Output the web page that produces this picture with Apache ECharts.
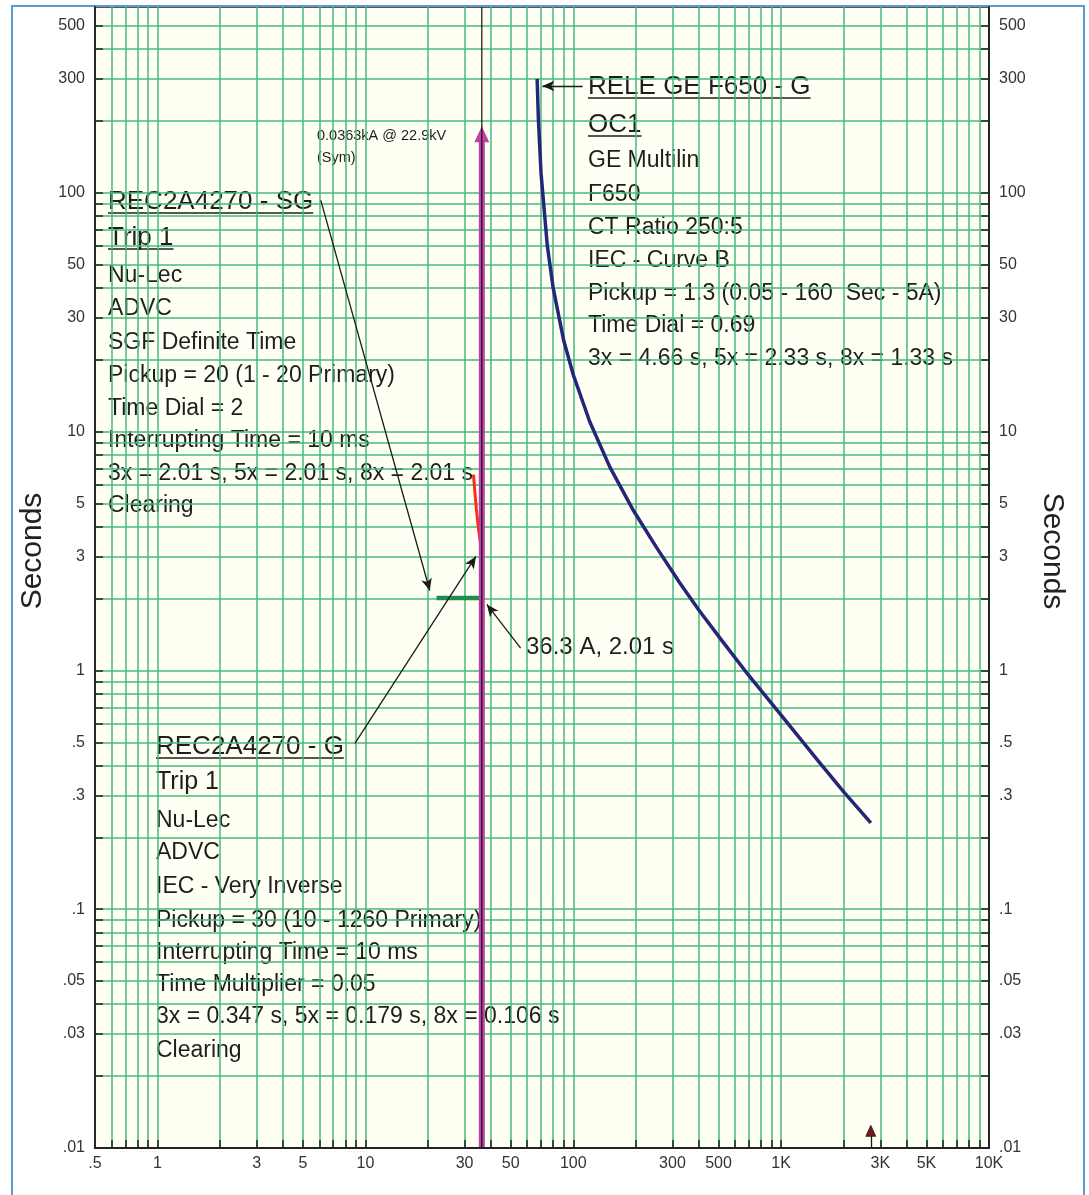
<!DOCTYPE html>
<html><head><meta charset="utf-8">
<script src="https://cdn.jsdelivr.net/npm/echarts@6/dist/echarts.min.js"></script>
<style>html,body{margin:0;padding:0;background:#fff}#c{width:1089px;height:1195px}</style>
</head><body><div id="c"></div>
<script>
// ---------------- data ----------------
const xTickValues = [0.5,1,3,5,10,30,50,100,300,500,1000,3000,5000,10000];
const xTickLabels = ['.5','1','3','5','10','30','50','100','300','500','1K','3K','5K','10K'];
const yTickValues = [0.01,0.03,0.05,0.1,0.3,0.5,1,3,5,10,30,50,100,300,500];
const yTickLabels = ['.01','.03','.05','.1','.3','.5','1','3','5','10','30','50','100','300','500'];
const xGridValues = [0.6,0.7,0.8,0.9,1,2,3,4,5,6,7,8,9,10,20,30,40,50,60,70,80,90,100,200,300,400,500,600,700,800,900,1000,2000,3000,4000,5000,6000,7000,8000,9000];
const yGridValues = [0.02,0.03,0.04,0.05,0.06,0.07,0.08,0.09,0.1,0.2,0.3,0.4,0.5,0.6,0.7,0.8,0.9,1,2,3,4,5,6,7,8,9,10,20,30,40,50,60,70,80,90,100,200,300,400,500];

// GE F650 relay curve (A, s)
const releF650 = [[67,300],[68,200],[70,120],[75,60],[80,40],[90,24],[100,17.3],[120,11],[150,7.1],[195,4.66],[250,3.3],[325,2.33],[400,1.8],[520,1.33],[700,0.95],[1000,0.65],[1500,0.42],[2000,0.31],[2700,0.23]];
// REC2A4270 - G (IEC very inverse), visible portion
const recG = [[33.1,6.6],[33.6,5.6],[34.2,4.7],[35.0,3.9],[35.6,3.5],[36.3,3.2]];
// REC2A4270 - SG definite time
const recSG = [[22,2.01],[36.3,2.01]];
// fault current line 0.0363 kA
const faultLine = [[36.3,0.01],[36.3,600]];
const faultArrow = [[36.3,0.01],[36.3,176]];
// annotation arrows [from, to]
const sgArrow = [[6.1,93],[20.4,2.16]];
const gArrow = [[8.9,0.495],[34,3.0]];
const ptArrow = [[55.8,1.24],[38.4,1.89]];
const releArrow = [[111,280],[71,280]];
const bottomMarker = [[2700,0.01],[2700,0.0118]];

const sgLines = ['REC2A4270 - SG','Trip 1','Nu-Lec','ADVC','SGF Definite Time','Pickup = 20 (1 - 20 Primary)','Time Dial = 2','Interrupting Time = 10 ms','3x = 2.01 s, 5x = 2.01 s, 8x = 2.01 s','Clearing'];
const gLines = ['REC2A4270 - G','Trip 1','Nu-Lec','ADVC','IEC - Very Inverse','Pickup = 30 (10 - 1260 Primary)','Interrupting Time = 10 ms','Time Multiplier = 0.05','3x = 0.347 s, 5x = 0.179 s, 8x = 0.106 s','Clearing'];
const releLines = ['RELE GE F650 - G','OC1','GE Multilin','F650','CT Ratio 250:5','IEC - Curve B','Pickup = 1.3 (0.05 - 160  Sec - 5A)','Time Dial = 0.69','3x = 4.66 s, 5x = 2.33 s, 8x = 1.33 s'];
const ptLabel = '36.3 A, 2.01 s';
const faultLabel = ['0.0363kA @ 22.9kV','(Sym)'];
const yName = 'Seconds';

// ---------------- layout ----------------
const FONT = '"Liberation Sans", Arial, sans-serif';
const TXT = '#1e1e1e';
const GRIDC = '#46b97b';
const blocks = [
  {lines: sgLines, x:108, ys:[202,238,276,309,343,376,409,441,474,506], big:[26,26], underline:2},
  {lines: gLines, x:156, ys:[747,782,821,853,887,921,953,985,1017,1051], big:[26,25], underline:1},
  {lines: releLines, x:588, ys:[87,125,161,195,228,261,294,326,359], big:[26,26], underline:2}
];
const mctx = document.createElement('canvas').getContext('2d');
function textW(t, size){ mctx.font = size + 'px ' + FONT; return mctx.measureText(t).width; }

const gfx = [];
gfx.push({type:'rect', shape:{x:12,y:6,width:1072,height:1220}, style:{fill:null, stroke:'#5b9bd5', lineWidth:2}, z:0, silent:true});
blocks.forEach(b => {
  b.lines.forEach((t, i) => {
    const size = i < b.big.length ? b.big[i] : 23;
    gfx.push({type:'text', x:b.x, y:b.ys[i], z:0, z2:5, silent:true,
      style:{text:t, fill:TXT, font: size + 'px ' + FONT, verticalAlign:'middle', align:'left'}});
    if (i < b.underline) {
      const w = textW(t, size);
      gfx.push({type:'line', z:0, z2:5, silent:true, shape:{x1:b.x, y1:b.ys[i]+11, x2:b.x+w, y2:b.ys[i]+11}, style:{stroke:TXT, lineWidth:1.6}});
    }
  });
});
gfx.push({type:'text', x:526, y:647, z:0, z2:5, silent:true, style:{text:ptLabel, fill:TXT, font:'24px '+FONT, verticalAlign:'middle'}});
gfx.push({type:'text', x:317, y:136, z:0, z2:5, silent:true, style:{text:faultLabel[0], fill:TXT, font:'14.5px '+FONT, verticalAlign:'middle'}});
gfx.push({type:'text', x:317, y:158, z:0, z2:5, silent:true, style:{text:faultLabel[1], fill:TXT, font:'14.5px '+FONT, verticalAlign:'middle'}});
gfx.push({type:'text', x:33, y:551, rotation:Math.PI/2, z:0, z2:5, silent:true, style:{text:yName, fill:'#222', font:'30px '+FONT, verticalAlign:'middle', align:'center'}});
gfx.push({type:'text', x:1052, y:551, rotation:-Math.PI/2, z:0, z2:5, silent:true, style:{text:yName, fill:'#222', font:'30px '+FONT, verticalAlign:'middle', align:'center'}});

function lookup(vals, labs, v){ for (let i=0;i<vals.length;i++){ if (Math.abs(v/vals[i]-1) < 1e-6) return labs[i]; } return ''; }

function yAxisCfg(pos){
  return {type:'log', logBase:10, min:0.01, max:600, position:pos, z:5,
    axisLine:{show:true, onZero:false, lineStyle:{color:'#222', width:1.8}},
    axisTick:{show:true, inside:true, length:8, customValues:yGridValues, lineStyle:{color:'#222', width:1.5}},
    axisLabel:{show:true, customValues:yTickValues, formatter:v=>lookup(yTickValues,yTickLabels,v), color:'#333', fontSize:16, fontFamily:FONT, margin:10},
    splitLine:{show:false}, minorTick:{show:false}, minorSplitLine:{show:false}};
}

const arrowLine = (pair) => [{coord:pair[0]},{coord:pair[1]}];

const option = {
  animation:false,
  backgroundColor:'#ffffff',
  grid:{left:95, right:100, top:7, bottom:47, show:true, backgroundColor:'#fffff4', borderColor:'#222', borderWidth:1.5},
  xAxis:{type:'log', logBase:10, min:0.5, max:10000, position:'bottom', z:5,
    axisLine:{show:true, onZero:false, lineStyle:{color:'#222', width:2}},
    axisTick:{show:true, inside:true, length:8, customValues:xGridValues, lineStyle:{color:'#222', width:1.5}},
    axisLabel:{show:true, customValues:xTickValues, formatter:v=>lookup(xTickValues,xTickLabels,v), color:'#333', fontSize:16, fontFamily:FONT, margin:8},
    splitLine:{show:false}, minorTick:{show:false}, minorSplitLine:{show:false}},
  yAxis:[yAxisCfg('left'), yAxisCfg('right')],
  graphic:{elements:gfx},
  series:[
    {type:'line', name:'grid', data:[[1,1]], symbol:'none', lineStyle:{opacity:0}, silent:true, z:1,
      markLine:{silent:true, symbol:'none', z:1, animation:false, label:{show:false}, emphasis:{disabled:true},
        lineStyle:{color:GRIDC, width:1.5, type:'solid'},
        data: xGridValues.map(v=>({xAxis:v})).concat(yGridValues.map(v=>({yAxis:v})))}},
    {type:'line', name:'RELE GE F650 - G', data:releF650, symbol:'none', lineStyle:{color:'#25257a', width:3.5}, z:3, silent:true},
    {type:'line', name:'REC2A4270 - G', data:recG, symbol:'none', lineStyle:{color:'#ff2a1a', width:3}, z:3, silent:true},
    {type:'line', name:'REC2A4270 - SG', data:recSG, symbol:'none', lineStyle:{color:'#1e8c4a', width:4.5}, z:3, silent:true},
    {type:'line', name:'fault', data:faultArrow, symbol:'none', lineStyle:{color:'#bb44a4', width:6}, z:4, silent:true,
      markPoint:{silent:true, z:4, animation:false, symbol:'triangle', symbolSize:[15,16], itemStyle:{color:'#bb44a4'}, label:{show:false},
        data:[{coord:faultArrow[1]}]}},
    {type:'line', name:'faultLine', data:faultLine, symbol:'none', lineStyle:{color:'#111', width:1.2}, z:10, silent:true},
    {type:'line', name:'arrows', data:[[1,1]], symbol:'none', lineStyle:{opacity:0}, silent:true, z:6,
      markLine:{silent:true, z:6, animation:false, symbol:['none','arrow'], symbolSize:[8,12], label:{show:false}, emphasis:{disabled:true},
        lineStyle:{color:'#1a1a1a', width:1.3, type:'solid'},
        data:[arrowLine(sgArrow), arrowLine(gArrow), arrowLine(ptArrow), arrowLine(releArrow),
              [{coord:bottomMarker[0], symbol:'none'},{coord:bottomMarker[1], symbol:'none'}]]},
      markPoint:{silent:true, z:6, animation:false, symbol:'triangle', symbolSize:[10,11], itemStyle:{color:'#7a1515', borderColor:'#222', borderWidth:0.8}, label:{show:false},
        data:[{coord:bottomMarker[1]}]}}
  ]
};
const chart = echarts.init(document.getElementById('c'), null, {renderer:'canvas'});
chart.setOption(option);
</script></body></html>
